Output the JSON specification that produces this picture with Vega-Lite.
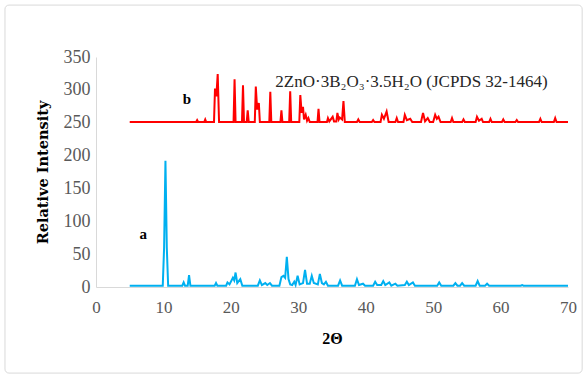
{
  "$schema": "https://vega.github.io/schema/vega-lite/v6.json",
  "autosize": "none",
  "width": 472,
  "height": 230,
  "padding": {"left": 96, "top": 57, "right": 19, "bottom": 92},
  "background": "white",
  "config": {"view": {"stroke": null}},
  "datasets": {
    "xrd": [
      {"s":"a","t":5,"i":2},{"s":"a","t":9.9,"i":2},{"s":"a","t":10.1,"i":60},{"s":"a","t":10.3,"i":192},{"s":"a","t":10.5,"i":60},{"s":"a","t":10.7,"i":2},
      {"s":"a","t":12.8,"i":2},{"s":"a","t":13.0,"i":7},{"s":"a","t":13.2,"i":2},{"s":"a","t":13.6,"i":2},{"s":"a","t":13.8,"i":18},{"s":"a","t":14.0,"i":2},
      {"s":"a","t":17.6,"i":2},{"s":"a","t":17.8,"i":6},{"s":"a","t":18.0,"i":2},{"s":"a","t":19.3,"i":2},{"s":"a","t":19.5,"i":7},{"s":"a","t":19.8,"i":4},
      {"s":"a","t":20.3,"i":14},{"s":"a","t":20.5,"i":10},{"s":"a","t":20.7,"i":22},{"s":"a","t":20.95,"i":6},{"s":"a","t":21.4,"i":12},{"s":"a","t":21.7,"i":2},
      {"s":"a","t":24.0,"i":2},{"s":"a","t":24.3,"i":10},{"s":"a","t":24.6,"i":3},{"s":"a","t":25.1,"i":6},{"s":"a","t":25.4,"i":3},{"s":"a","t":25.8,"i":6},{"s":"a","t":26.1,"i":2},
      {"s":"a","t":27.2,"i":2},{"s":"a","t":27.5,"i":15},{"s":"a","t":27.8,"i":17},{"s":"a","t":28.05,"i":14},{"s":"a","t":28.3,"i":46},{"s":"a","t":28.55,"i":12},{"s":"a","t":28.8,"i":4},
      {"s":"a","t":29.1,"i":3},{"s":"a","t":29.4,"i":8},{"s":"a","t":29.6,"i":3},{"s":"a","t":29.9,"i":17},{"s":"a","t":30.2,"i":4},{"s":"a","t":30.7,"i":6},{"s":"a","t":31.0,"i":26},{"s":"a","t":31.3,"i":5},
      {"s":"a","t":31.7,"i":5},{"s":"a","t":32.0,"i":17},{"s":"a","t":32.3,"i":6},{"s":"a","t":32.9,"i":4},{"s":"a","t":33.2,"i":20},{"s":"a","t":33.5,"i":6},{"s":"a","t":33.8,"i":4},{"s":"a","t":34.1,"i":8},{"s":"a","t":34.4,"i":2},
      {"s":"a","t":35.9,"i":2},{"s":"a","t":36.2,"i":10},{"s":"a","t":36.5,"i":2},{"s":"a","t":38.4,"i":2},{"s":"a","t":38.7,"i":12},{"s":"a","t":39.0,"i":3},{"s":"a","t":39.6,"i":5},{"s":"a","t":39.9,"i":2},
      {"s":"a","t":41.1,"i":2},{"s":"a","t":41.4,"i":8},{"s":"a","t":41.7,"i":3},{"s":"a","t":42.3,"i":3},{"s":"a","t":42.6,"i":9},{"s":"a","t":42.9,"i":3},{"s":"a","t":43.5,"i":7},{"s":"a","t":43.8,"i":2},
      {"s":"a","t":44.4,"i":5},{"s":"a","t":44.7,"i":2},{"s":"a","t":45.8,"i":3},{"s":"a","t":46.1,"i":8},{"s":"a","t":46.4,"i":3},{"s":"a","t":47.0,"i":7},{"s":"a","t":47.3,"i":2},
      {"s":"a","t":50.6,"i":2},{"s":"a","t":50.9,"i":7},{"s":"a","t":51.2,"i":2},{"s":"a","t":53.0,"i":2},{"s":"a","t":53.3,"i":6},{"s":"a","t":53.6,"i":2},{"s":"a","t":54.0,"i":2},{"s":"a","t":54.3,"i":6},{"s":"a","t":54.6,"i":2},
      {"s":"a","t":56.3,"i":2},{"s":"a","t":56.6,"i":9},{"s":"a","t":56.9,"i":2},{"s":"a","t":57.7,"i":2},{"s":"a","t":58.0,"i":5},{"s":"a","t":58.3,"i":2},{"s":"a","t":63.0,"i":2},{"s":"a","t":63.2,"i":3},{"s":"a","t":63.4,"i":2},{"s":"a","t":70,"i":2},

      {"s":"b","t":5,"i":251},{"s":"b","t":14.85,"i":251},{"s":"b","t":15.0,"i":254},{"s":"b","t":15.15,"i":251},{"s":"b","t":16.05,"i":251},{"s":"b","t":16.2,"i":255},{"s":"b","t":16.35,"i":251},
      {"s":"b","t":17.5,"i":251},{"s":"b","t":17.65,"i":302},{"s":"b","t":17.85,"i":290},{"s":"b","t":18.05,"i":324},{"s":"b","t":18.25,"i":251},
      {"s":"b","t":20.4,"i":251},{"s":"b","t":20.55,"i":316},{"s":"b","t":20.7,"i":251},{"s":"b","t":21.65,"i":251},{"s":"b","t":21.8,"i":307},{"s":"b","t":21.95,"i":251},
      {"s":"b","t":22.35,"i":251},{"s":"b","t":22.5,"i":269},{"s":"b","t":22.65,"i":251},{"s":"b","t":23.55,"i":251},{"s":"b","t":23.7,"i":305},{"s":"b","t":23.9,"i":270},{"s":"b","t":24.15,"i":280},{"s":"b","t":24.3,"i":251},
      {"s":"b","t":25.7,"i":251},{"s":"b","t":25.85,"i":297},{"s":"b","t":26.0,"i":251},{"s":"b","t":27.35,"i":251},{"s":"b","t":27.5,"i":269},{"s":"b","t":27.65,"i":251},
      {"s":"b","t":28.65,"i":251},{"s":"b","t":28.8,"i":298},{"s":"b","t":28.95,"i":251},{"s":"b","t":30.15,"i":251},{"s":"b","t":30.3,"i":292},{"s":"b","t":30.5,"i":265},{"s":"b","t":30.7,"i":274},{"s":"b","t":30.85,"i":255},
      {"s":"b","t":31.1,"i":262},{"s":"b","t":31.3,"i":253},{"s":"b","t":31.5,"i":257},{"s":"b","t":31.7,"i":251},{"s":"b","t":32.85,"i":251},{"s":"b","t":33.0,"i":271},{"s":"b","t":33.15,"i":251},
      {"s":"b","t":34.25,"i":251},{"s":"b","t":34.4,"i":257},{"s":"b","t":34.6,"i":252},{"s":"b","t":35.1,"i":259},{"s":"b","t":35.3,"i":252},{"s":"b","t":35.65,"i":252},{"s":"b","t":35.8,"i":265},{"s":"b","t":36.0,"i":255},
      {"s":"b","t":36.15,"i":258},{"s":"b","t":36.5,"i":255},{"s":"b","t":36.7,"i":283},{"s":"b","t":36.9,"i":251},{"s":"b","t":38.7,"i":251},{"s":"b","t":38.9,"i":255},{"s":"b","t":39.1,"i":251},
      {"s":"b","t":40.9,"i":251},{"s":"b","t":41.1,"i":254},{"s":"b","t":41.3,"i":251},{"s":"b","t":42.2,"i":251},{"s":"b","t":42.4,"i":262},{"s":"b","t":42.7,"i":256},{"s":"b","t":43.1,"i":267},{"s":"b","t":43.4,"i":251},
      {"s":"b","t":44.4,"i":251},{"s":"b","t":44.6,"i":257},{"s":"b","t":44.8,"i":251},{"s":"b","t":45.6,"i":251},{"s":"b","t":45.8,"i":262},{"s":"b","t":46.1,"i":254},{"s":"b","t":46.6,"i":256},{"s":"b","t":46.9,"i":251},
      {"s":"b","t":48.2,"i":251},{"s":"b","t":48.5,"i":265},{"s":"b","t":48.8,"i":252},{"s":"b","t":49.2,"i":257},{"s":"b","t":49.5,"i":251},{"s":"b","t":50.0,"i":251},{"s":"b","t":50.3,"i":262},{"s":"b","t":50.55,"i":256},{"s":"b","t":50.8,"i":259},{"s":"b","t":51.1,"i":251},
      {"s":"b","t":52.6,"i":251},{"s":"b","t":52.8,"i":257},{"s":"b","t":53.0,"i":251},{"s":"b","t":54.3,"i":251},{"s":"b","t":54.5,"i":255},{"s":"b","t":54.7,"i":251},{"s":"b","t":56.3,"i":251},{"s":"b","t":56.5,"i":259},{"s":"b","t":56.8,"i":253},{"s":"b","t":57.2,"i":256},{"s":"b","t":57.4,"i":251},
      {"s":"b","t":58.3,"i":251},{"s":"b","t":58.5,"i":256},{"s":"b","t":58.7,"i":251},{"s":"b","t":60.2,"i":251},{"s":"b","t":60.4,"i":255},{"s":"b","t":60.6,"i":251},{"s":"b","t":62.2,"i":251},{"s":"b","t":62.4,"i":254},{"s":"b","t":62.6,"i":251},
      {"s":"b","t":65.7,"i":251},{"s":"b","t":65.9,"i":256},{"s":"b","t":66.1,"i":251},{"s":"b","t":67.9,"i":251},{"s":"b","t":68.1,"i":257},{"s":"b","t":68.3,"i":251},{"s":"b","t":70,"i":251}
    ],
    "labels": [
      {"t": 7.0, "i": 81, "txt": "a"},
      {"t": 13.5, "i": 286, "txt": "b"}
    ],
    "note": [
      {"t": 26.6, "i": 312, "txt": "2ZnO·3B₂O₃·3.5H₂O (JCPDS 32-1464)"}
    ],
    "frame": [
      {"x0": -13.5, "x1": 72.1, "y0": 429, "y1": -131}
    ]
  },
  "layer": [
    {
      "data": {"name": "xrd"},
      "mark": {"type": "line", "strokeWidth": 2, "interpolate": "linear"},
      "encoding": {
        "x": {
          "field": "t", "type": "quantitative",
          "scale": {"domain": [0, 70], "nice": false, "zero": false},
          "axis": {
            "values": [0, 10, 20, 30, 40, 50, 60, 70],
            "grid": false, "ticks": false, "labelFlush": false, "labelOverlap": false, "labelBound": false,
            "domainColor": "#D9D9D9", "domainWidth": 1,
            "labelFont": "Liberation Serif", "labelFontSize": 17, "labelColor": "#595959",
            "labelPadding": 12,
            "title": "2Θ", "titleFont": "Liberation Serif", "titleFontSize": 16, "titleFontWeight": "bold",
            "titleColor": "#000000", "titlePadding": 15
          }
        },
        "y": {
          "field": "i", "type": "quantitative",
          "scale": {"domain": [0, 350], "nice": false},
          "axis": {
            "values": [0, 50, 100, 150, 200, 250, 300, 350],
            "tickCount": 8,
            "grid": false, "ticks": false, "labelFlush": false, "labelOverlap": false, "labelBound": false,
            "domainColor": "#D9D9D9", "domainWidth": 1,
            "labelFont": "Liberation Serif", "labelFontSize": 18, "labelColor": "#595959",
            "labelPadding": 6,
            "title": "Relative Intensity", "titleFont": "DejaVu Serif", "titleFontSize": 14.5, "titleFontWeight": "bold",
            "titleColor": "#000000", "titlePadding": 13
          }
        },
        "color": {
          "field": "s", "type": "nominal",
          "scale": {"domain": ["a", "b"], "range": ["#00B0F0", "#FF0000"]},
          "legend": null
        }
      }
    },
    {
      "data": {"name": "labels"},
      "mark": {"type": "text", "font": "Liberation Serif", "fontSize": 15, "fontWeight": "bold", "color": "#000000", "align": "center", "baseline": "middle"},
      "encoding": {
        "x": {"field": "t", "type": "quantitative"},
        "y": {"field": "i", "type": "quantitative"},
        "text": {"field": "txt"}
      }
    },
    {
      "data": {"name": "note"},
      "mark": {"type": "text", "font": "Liberation Serif", "fontSize": 17, "color": "#262626", "align": "left", "baseline": "middle"},
      "encoding": {
        "x": {"field": "t", "type": "quantitative"},
        "y": {"field": "i", "type": "quantitative"},
        "text": {"field": "txt"}
      }
    },
    {
      "data": {"name": "frame"},
      "mark": {"type": "rect", "fill": null, "stroke": "#D9D9D9", "strokeWidth": 1, "cornerRadius": 4, "clip": false},
      "encoding": {
        "x": {"field": "x0", "type": "quantitative"},
        "x2": {"field": "x1"},
        "y": {"field": "y0", "type": "quantitative"},
        "y2": {"field": "y1"}
      }
    }
  ]
}
